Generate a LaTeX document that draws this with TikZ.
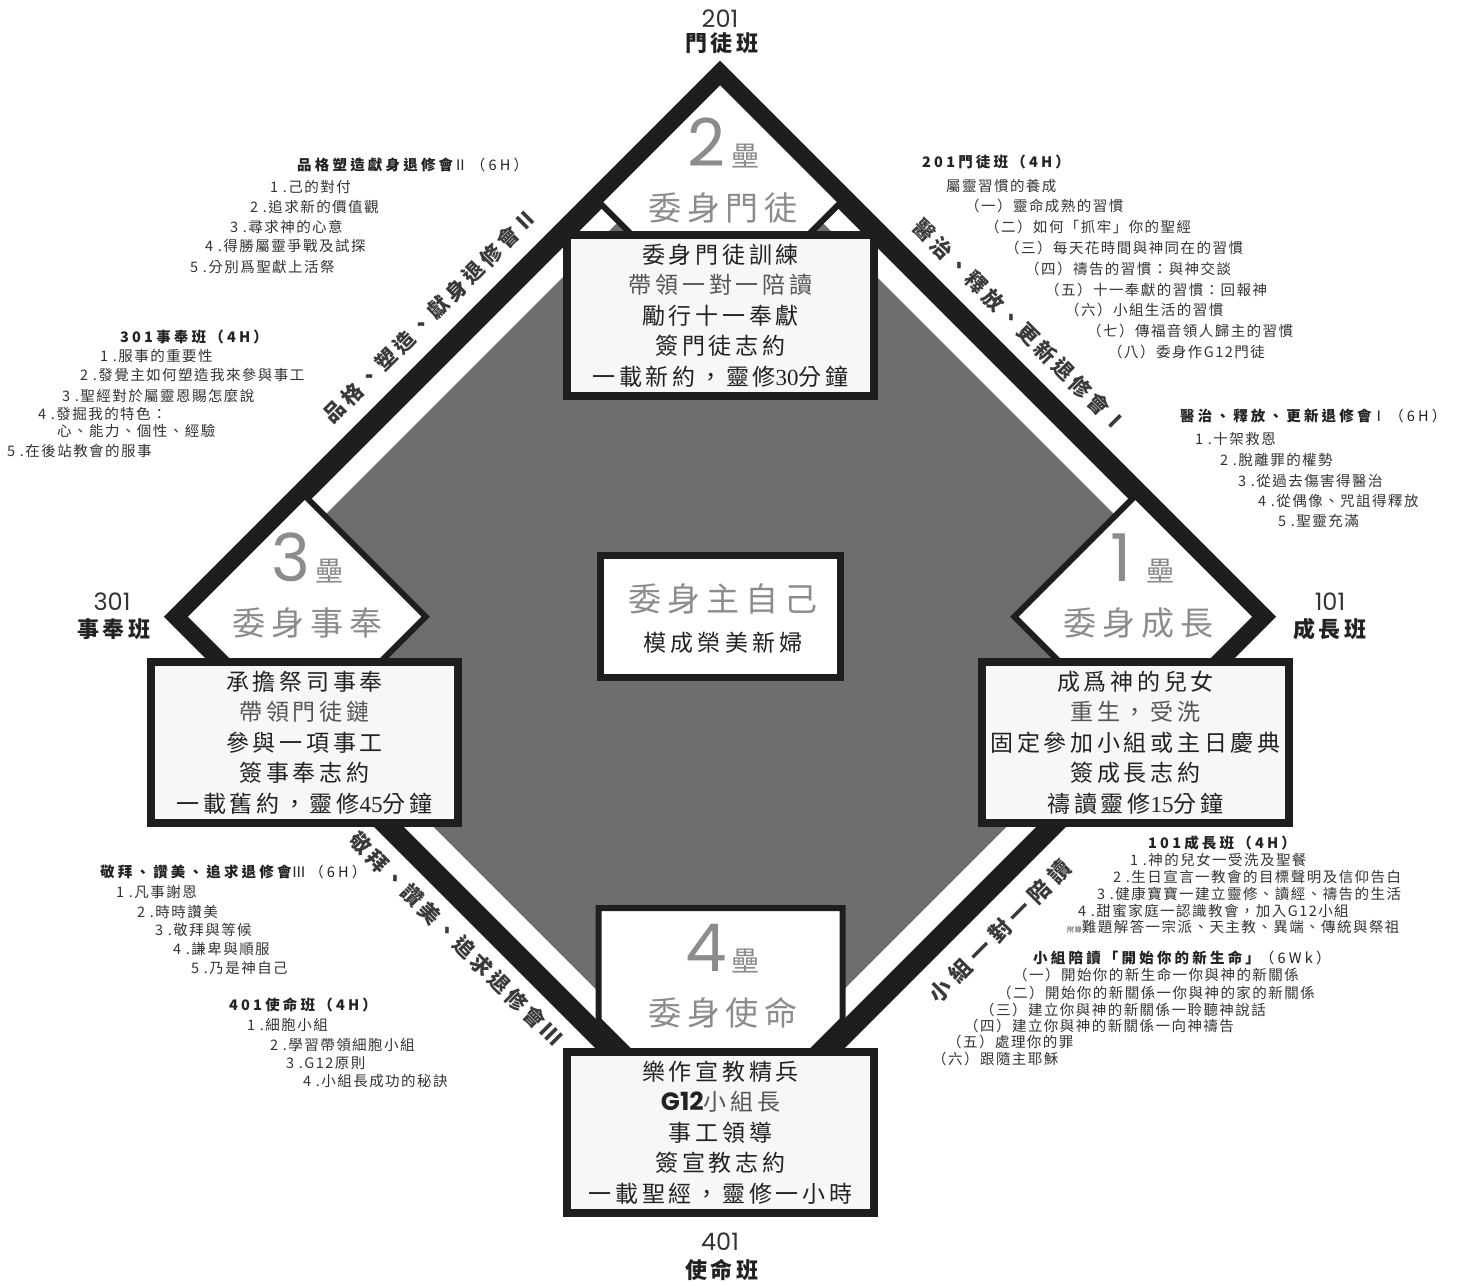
\documentclass[tikz,border=0pt]{standalone}
\usepackage{fontspec}
\setmainfont{Noto Sans CJK TC}
\newfontfamily\cjksmall[LetterSpace=10]{Noto Sans CJK TC}
\newfontfamily\cjkhead[LetterSpace=22]{Noto Sans CJK TC}
\newfontfamily\cjkcls[LetterSpace=18]{Noto Sans CJK TC}
\newfontfamily\cjkbox[LetterSpace=16]{Noto Sans CJK TC}
\newfontfamily\cjkbase[LetterSpace=18]{Noto Sans CJK TC}
\newfontfamily\cjkdiag[LetterSpace=17]{Noto Sans CJK TC}
\newfontfamily\cjkdiagw[LetterSpace=27]{Noto Sans CJK TC}
\newfontfamily\geo{Poppins}
\newfontfamily\sernum{Liberation Serif}
\definecolor{band}{HTML}{1E1E1E}
\definecolor{field}{HTML}{6E6E6E}
\definecolor{basetxt}{HTML}{8C8C8C}
\definecolor{boxfill}{HTML}{F7F7F7}
\definecolor{ink}{HTML}{222222}
\definecolor{soft}{HTML}{555555}
\definecolor{itemc}{HTML}{333333}
\definecolor{diagc}{HTML}{3A3A3A}
\tikzset{
  item/.style={anchor=west, inner sep=0pt, text=itemc, font=\cjksmall\fontsize{14.5}{16}\selectfont},
  head/.style={anchor=west, inner sep=0pt, text=ink, font=\cjkhead\bfseries\fontsize{14.5}{16}\selectfont},
  infobox/.style={draw=band, fill=boxfill, line width=8pt, minimum width=307pt, minimum height=161pt,
    inner sep=0pt, align=center, text=ink, font=\cjkbox\fontsize{23}{30.5}\selectfont},
  centerbox/.style={draw=band, fill=white, line width=7pt, minimum width=240pt, minimum height=122pt, inner sep=0pt},
  plate/.style={draw=band, fill=white, line width=6pt, line join=miter},
  basedigit/.style={anchor=south, inner sep=0pt, text=basetxt, font=\geo\fontsize{66}{66}\selectfont},
  lei/.style={inner sep=0pt, text=basetxt, font=\cjkbase\fontsize{28}{28}\selectfont},
  basename/.style={inner sep=0pt, text=basetxt, font=\cjkbase\fontsize{33}{33}\selectfont},
  clsnum/.style={inner sep=0pt, text=itemc, font=\geo\fontsize{24}{24}\selectfont},
  clsname/.style={inner sep=0pt, text=ink, font=\cjkcls\bfseries\fontsize{22}{22}\selectfont},
  diag/.style={inner sep=0pt, text=diagc, font=\cjkdiag\bfseries\fontsize{21}{21}\selectfont},
  diagw/.style={inner sep=0pt, text=diagc, font=\cjkdiagw\bfseries\fontsize{22}{22}\selectfont},
}
\begin{document}
\begin{tikzpicture}[x=1pt,y=-1pt]
\useasboundingbox (0,0) rectangle (1463,1285);
\fill[white] (0,0) rectangle (1463,1285);
% field and band
\fill[field] (720,120.1) -- (1216.6,616.7) -- (720,1113.3) -- (223.4,616.7) -- cycle;
\draw[band, line width=21pt, line join=miter, miter limit=10] (720,75.5) -- (1261.2,616.7) -- (720,1157.9) -- (178.8,616.7) -- cycle;
% bases
\draw[plate] (720,81) -- (841,202) -- (720,323) -- (599,202) -- cycle;
\draw[plate] (304.7,495.7) -- (425.7,616.7) -- (304.7,737.7) -- (183.7,616.7) -- cycle;
\draw[plate] (1135.3,495.7) -- (1256.3,616.7) -- (1135.3,737.7) -- (1014.3,616.7) -- cycle;
\draw[plate] (598.5,908) -- (842.5,908) -- (842.5,1020) -- (720.5,1142) -- (598.5,1020) -- cycle;
% base labels
\foreach \n/\cx/\cy/\d/\t in {b2/720/202/2/委身門徒, b3/304.7/616.7/3/委身事奉, b1/1135.3/616.7/1/委身成長, b4/720/1007/4/委身使命}{
  \node[basedigit] (\n-d) at (\cx-14,\cy-35) {\d};
  \node[lei] (\n-l) at (\cx+25,\cy-46) {壘};
  \node[basename] (\n-t) at (\cx+3,\cy+6) {\t};
}
% boxes
\node[infobox] (box2) at (720.5,315.5) {委身門徒訓練\\\textcolor{soft}{帶領一對一陪讀}\\勵行十一奉獻\\簽門徒志約\\一載新約，靈修{\sernum 30}分鐘};
\node[infobox] (box3) at (304.5,742.5) {承擔祭司事奉\\\textcolor{soft}{帶領門徒鏈}\\參與一項事工\\簽事奉志約\\一載舊約，靈修{\sernum 45}分鐘};
\node[infobox] (box1) at (1135.5,742.5) {成爲神的兒女\\\textcolor{soft}{重生，受洗}\\固定參加小組或主日慶典\\簽成長志約\\禱讀靈修{\sernum 15}分鐘};
\node[infobox] (box4) at (720.5,1132.5) {樂作宣教精兵\\{\geo\bfseries\fontsize{25}{30.5}\selectfont G12}\textcolor{soft}{小組長}\\事工領導\\簽宣教志約\\一載聖經，靈修一小時};
\node[centerbox] (cbox) at (720.5,616.5) {};
\node[basename] (c1) at (723,599) {委身主自己};
\node[inner sep=0pt, text=ink, font=\cjkbase\fontsize{23}{23}\selectfont] (c2) at (723,643) {模成榮美新婦};
% class labels
\node[clsnum] (n201) at (720,18.5) {201};
\node[clsname] (m201) at (722,43) {門徒班};
\node[clsnum] (n301) at (112,601.5) {301};
\node[clsname] (m301) at (114,629) {事奉班};
\node[clsnum] (n101) at (1330,601.5) {101};
\node[clsname] (m101) at (1330,629) {成長班};
\node[clsnum] (n401) at (720,1241.5) {401};
\node[clsname] (m401) at (722,1270) {使命班};
% diagonal labels
\node[diag, rotate=45] (dul) at (430,316) {品格、塑造、獻身退修會Ⅱ};
\node[diag, rotate=-45] (dur) at (1020,326) {醫治、釋放、更新退修會Ⅰ};
\node[diag, rotate=-45] (dll) at (456,939) {敬拜、讚美、追求退修會Ⅲ};
\node[diagw, rotate=45] (dlr) at (1000,931) {小組一對一陪讀};
% upper-left block
\node[head] (h1) at (297,165) {品格塑造獻身退修會\mdseries Ⅱ（6H）};
\foreach \x/\y/\t [count=\i] in {270/187/{1 .己的對付}, 250/207/{2 .追求新的價值觀}, 230/227/{3 .尋求神的心意}, 205/246/{4 .得勝屬靈爭戰及試探}, 190/267/{5 .分別爲聖獻上活祭}}
  \node[item] (ula\i) at (\x,\y) {\t};
\node[head] (h2) at (120,337) {301事奉班（4H）};
\foreach \x/\y/\t [count=\i] in {100/356/{1 .服事的重要性}, 80/375/{2 .發覺主如何塑造我來參與事工}, 62/396/{3 .聖經對於屬靈恩賜怎麼說}, 38/414/{4 .發掘我的特色：}, 57/431/{心、能力、個性、經驗}, 7/451/{5 .在後站教會的服事}}
  \node[item] (ulb\i) at (\x,\y) {\t};
% upper-right block
\node[head] (h3) at (922,162) {201門徒班（4H）};
\foreach \x/\y/\t [count=\i] in {946/186/{屬靈習慣的養成}, 965/206/{（一）靈命成熟的習慣}, 985/227/{（二）如何「抓牢」你的聖經}, 1005/248/{（三）每天花時間與神同在的習慣}, 1025/269/{（四）禱告的習慣：與神交談}, 1045/290/{（五）十一奉獻的習慣：回報神}, 1065/310/{（六）小組生活的習慣}, 1087/331/{（七）傳福音領人歸主的習慣}, 1108/352/{（八）委身作G12門徒}}
  \node[item] (ura\i) at (\x,\y) {\t};
\node[head] (h4) at (1180,416) {醫治、釋放、更新退修會\mdseries Ⅰ（6H）};
\foreach \x/\y/\t [count=\i] in {1195/439/{1 .十架救恩}, 1220/460/{2 .脫離罪的權勢}, 1238/481/{3 .從過去傷害得醫治}, 1258/501/{4 .從偶像、咒詛得釋放}, 1278/521/{5 .聖靈充滿}}
  \node[item] (urb\i) at (\x,\y) {\t};
% lower-left block
\node[head] (h5) at (100,872) {敬拜、讚美、追求退修會\mdseries Ⅲ（6H）};
\foreach \x/\y/\t [count=\i] in {116/892/{1 .凡事謝恩}, 137/912/{2 .時時讚美}, 155/930/{3 .敬拜與等候}, 173/949/{4 .謙卑與順服}, 191/968/{5 .乃是神自己}}
  \node[item] (lla\i) at (\x,\y) {\t};
\node[head] (h6) at (229,1005) {401使命班（4H）};
\foreach \x/\y/\t [count=\i] in {247/1025/{1 .細胞小組}, 270/1045/{2 .學習帶領細胞小組}, 286/1063/{3 .G12原則}, 303/1081/{4 .小組長成功的秘訣}}
  \node[item] (llb\i) at (\x,\y) {\t};
% lower-right block
\node[head] (h7) at (1148,843) {101成長班（4H）};
\foreach \x/\y/\t [count=\i] in {1130/860/{1 .神的兒女一受洗及聖餐}, 1113/877/{2 .生日宣言一教會的目標聲明及信仰告白}, 1097/894/{3 .健康寶寶一建立靈修、讀經、禱告的生活}, 1078/911/{4 .甜蜜家庭一認識教會，加入G12小組}, 1067/927/{{\fontsize{7}{7}\selectfont 附錄}難題解答一宗派、天主教、異端、傳統與祭祖}}
  \node[item] (lra\i) at (\x,\y) {\t};
\node[head] (h8) at (1033,958) {小組陪讀「開始你的新生命」\mdseries（6Wk）};
\foreach \x/\y/\t [count=\i] in {1013/975/{（一）開始你的新生命一你與神的新關係}, 997/993/{（二）開始你的新關係一你與神的家的新關係}, 980/1010/{（三）建立你與神的新關係一聆聽神說話}, 964/1026/{（四）建立你與神的新關係一向神禱告}, 947/1042/{（五）處理你的罪}, 932/1059/{（六）跟隨主耶穌}}
  \node[item] (lrb\i) at (\x,\y) {\t};
\end{tikzpicture}
\end{document}
